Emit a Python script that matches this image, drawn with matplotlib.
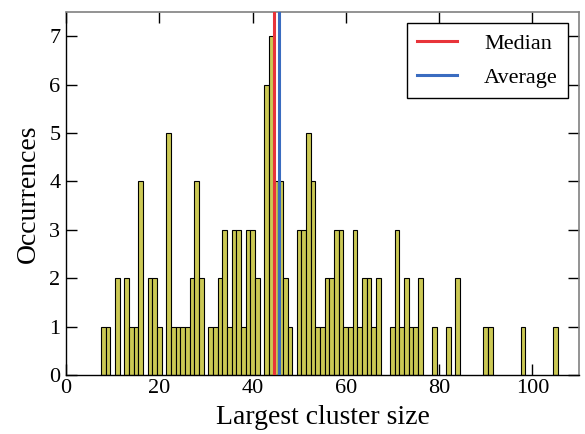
import numpy as np
import matplotlib
matplotlib.use("Agg")
import matplotlib.pyplot as plt

# histogram of largest cluster size (bin centre, occurrences)
sizes = [8, 9, 11, 13, 14, 15, 16, 18, 19, 20,
         22, 23, 24, 25, 26, 27, 28, 29, 31, 32,
         33, 34, 35, 36, 37, 38, 39, 40, 41, 43,
         44, 45, 46, 47, 48, 50, 51, 52, 53, 54,
         55, 56, 57, 58, 59, 60, 61, 62, 63, 64,
         65, 66, 67, 70, 71, 72, 73, 74, 75, 76,
         79, 82, 84, 90, 91, 98, 105]
counts = [1, 1, 2, 2, 1, 1, 4, 2, 2, 1,
          5, 1, 1, 1, 1, 2, 4, 2, 1, 1,
          2, 3, 1, 3, 3, 1, 3, 3, 2, 6,
          7, 4, 4, 2, 1, 3, 3, 5, 4, 1,
          1, 2, 2, 3, 3, 1, 1, 3, 1, 2,
          2, 1, 2, 1, 3, 1, 2, 1, 1, 2,
          1, 1, 2, 1, 1, 1, 1]

x_ticks = [0, 20, 40, 60, 80, 100]
y_ticks = [0, 1, 2, 3, 4, 5, 6, 7]

samples = np.repeat(sizes, counts)
median_val = np.median(samples)
mean_val = np.mean(samples)

plt.rcParams['font.family'] = ['Liberation Serif', 'DejaVu Serif']

fig = plt.figure(figsize=(5.85, 4.34), dpi=100)
ax = fig.add_axes([0.1128, 0.1359, 0.8769, 0.8365])

ax.bar(sizes, counts, width=1.0, color='#cbc854', edgecolor='black',
       linewidth=0.8, zorder=2)
ax.axvline(median_val, color='#e8343a', lw=2.2, label='Median', zorder=3)
ax.axvline(mean_val, color='#3a6cc0', lw=2.2, label='Average', zorder=3)

ax.set_xlim(0, 110)
ax.set_ylim(0, 7.5)
ax.set_xticks(x_ticks)
ax.set_yticks(y_ticks)

ax.tick_params(direction='in', length=8, width=1, top=True, right=True,
               labelsize=16)
ax.tick_params(axis='x', pad=3)
ax.tick_params(axis='y', pad=4)

for side in ['left', 'bottom']:
    ax.spines[side].set_color('black')
    ax.spines[side].set_linewidth(1)
for side in ['top', 'right']:
    ax.spines[side].set_color('#808080')
    ax.spines[side].set_linewidth(1.2)

ax.set_xlabel('Largest cluster size', fontsize=20, labelpad=5)
ax.set_ylabel('Occurrences', fontsize=20, labelpad=6)

leg = ax.legend(loc='upper right', fontsize=16, fancybox=False,
                edgecolor='black', framealpha=1, handlelength=1.8,
                handletextpad=1.2, labelspacing=0.6, borderpad=0.45,
                borderaxespad=0.5)
leg.get_frame().set_linewidth(1)

fig.savefig('out.png', dpi=100)
